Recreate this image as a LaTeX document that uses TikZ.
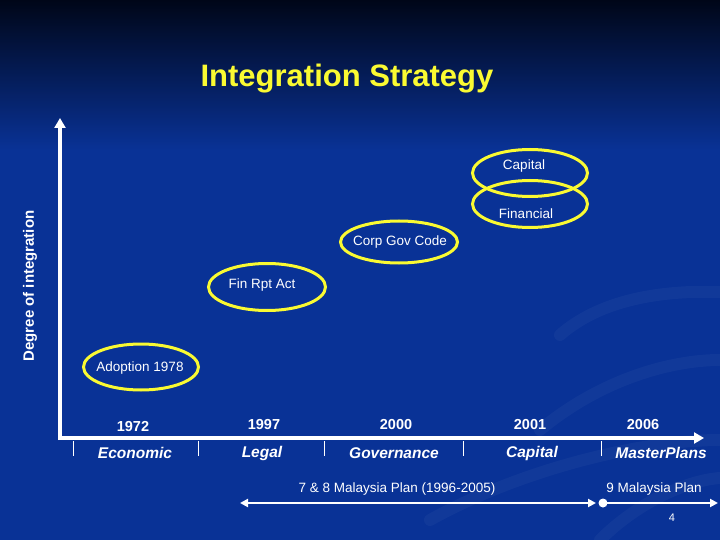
\documentclass[tikz,border=0pt]{standalone}
\usepackage{fontspec}
\setmainfont{Liberation Sans}
\usetikzlibrary{arrows.meta,shapes.geometric}
\definecolor{bgblue}{RGB}{9,50,150}
\definecolor{topnavy}{RGB}{0,6,24}
\definecolor{ylw}{RGB}{250,250,50}
\tikzset{
  ring/.style={draw=ylw,line width=3pt,ellipse,inner sep=0pt},
  lbl/.style={text=white,font=\fontsize{13.5}{16}\selectfont,inner sep=0pt},
  yr/.style={text=white,font=\bfseries\fontsize{14.5}{17}\selectfont,inner sep=0pt},
  cat/.style={text=white,font=\bfseries\itshape\fontsize{15.5}{18}\selectfont,inner sep=0pt},
  axis/.style={draw=white,line width=3.5pt,-{Triangle[width=11pt,length=10pt]}},
  tick/.style={draw=white,line width=1pt},
  plan/.style={draw=white,line width=2.5pt},
}
\begin{document}
\begin{tikzpicture}[x=1pt,y=-1pt]
\useasboundingbox (0,0) rectangle (720,540);
% background
\fill[bgblue] (0,0) rectangle (720,540);
\shade[top color=topnavy,bottom color=bgblue] (0,0) rectangle (720,150);
% faint swooshes
\begin{scope}[white,opacity=0.035,line width=12pt,line cap=round]
\draw (560,335) .. controls (600,300) and (660,290) .. (720,292);
\draw (540,430) .. controls (600,380) and (670,360) .. (720,360);
\draw (430,520) .. controls (520,470) and (640,440) .. (720,440);
\draw (600,540) .. controls (640,500) and (690,480) .. (720,478);
\end{scope}
% title
\node[text=ylw,font=\bfseries\fontsize{31}{36}\selectfont,anchor=base,inner sep=0pt] (title) at (347,87) {Integration Strategy};
% axes
\coordinate (origin) at (60,438);
\coordinate (ytop) at (60,118);
\coordinate (xend) at (704,438);
\draw[axis] (60,440) -- (ytop);
\draw[axis] (origin) -- (xend);
\node[text=white,font=\bfseries\fontsize{15}{18}\selectfont,rotate=90,inner sep=0pt] (ylab) at (30,286) {Degree of integration};
% ellipses
\node[ring,minimum width=115pt,minimum height=47pt] (eCap) at (530,173) {};
\node[ring,minimum width=115pt,minimum height=47pt] (eFin) at (530,204) {};
\node[ring,minimum width=117pt,minimum height=42pt] (eCgc) at (399,242) {};
\node[ring,minimum width=117pt,minimum height=47pt] (eFrp) at (267,287) {};
\node[ring,minimum width=115pt,minimum height=46pt] (eAdo) at (141,367) {};
\node[lbl] (tCap) at (524,166) {Capital};
\node[lbl] (tFin) at (526,214) {Financial};
\node[lbl] (tCgc) at (400,242) {Corp Gov Code};
\node[lbl] (tFrp) at (262,285) {Fin Rpt Act};
\node[lbl] (tAdo) at (140,368) {Adoption 1978};
% ticks
\foreach \n/\x in {t1/73,t2/198,t3/324,t4/463,t5/601}{
  \coordinate (\n a) at (\x,441);
  \coordinate (\n b) at (\x,456);
  \draw[tick] (\n a) -- (\n b);
}
% years
\node[yr] (y1) at (133,427) {1972};
\node[yr] (y2) at (264,425) {1997};
\node[yr] (y3) at (396,425) {2000};
\node[yr] (y4) at (530,425) {2001};
\node[yr] (y5) at (643,425) {2006};
% categories
\node[cat] (c1) at (135,453) {Economic};
\node[cat] (c2) at (262,453) {Legal};
\node[cat] (c3) at (394,453) {Governance};
\node[cat] (c4) at (532,453) {Capital};
\node[cat] (c5) at (661,453) {MasterPlans};
% plans
\node[lbl] (p78) at (397,489) {7 \& 8 Malaysia Plan (1996-2005)};
\node[lbl] (p9) at (654,489) {9 Malaysia Plan};
\coordinate (pa) at (240,503);
\coordinate (pb) at (596,503);
\draw[plan,{Triangle[width=8pt,length=8pt]}-{Triangle[width=8pt,length=8pt]}] (pa) -- (pb);
\node[circle,fill=white,minimum size=9pt,inner sep=0pt] (dot) at (603,503) {};
\coordinate (pc) at (718,503);
\draw[plan,-{Triangle[width=8pt,length=8pt]}] (dot.center) -- (pc);
\node[text=white,font=\fontsize{11}{13}\selectfont,inner sep=0pt] (pg) at (672,518) {4};
\end{tikzpicture}
\end{document}
